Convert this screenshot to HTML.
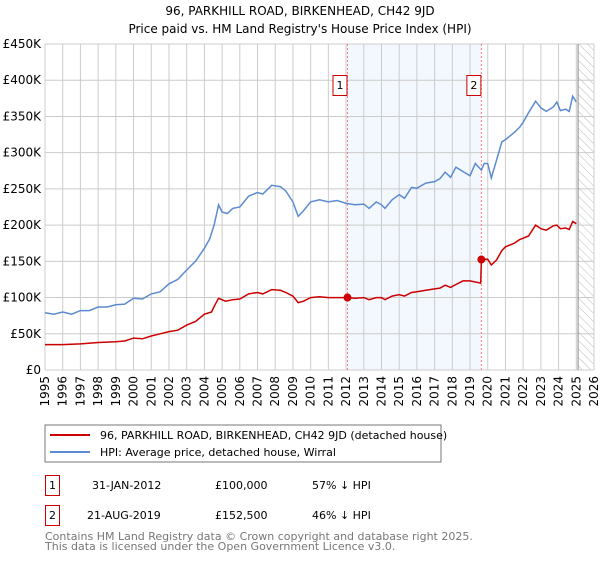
<!DOCTYPE html>
<html><head><meta charset="utf-8"><style>
body{margin:0;background:#fff;font-family:"DejaVu Sans","Liberation Sans",sans-serif}
svg text{font-family:"DejaVu Sans","Liberation Sans",sans-serif}
</style></head><body>
<svg id="c" width="600" height="560" xmlns="http://www.w3.org/2000/svg">
<defs><pattern id="hatch" width="6" height="6" patternUnits="userSpaceOnUse" patternTransform="rotate(-45)"><line x1="0" y1="0" x2="0" y2="6" stroke="#bbb" stroke-width="1"/></pattern></defs>
<text x="300" y="15" text-anchor="middle" font-size="12" fill="#000">96, PARKHILL ROAD, BIRKENHEAD, CH42 9JD</text>
<text x="300" y="33" text-anchor="middle" font-size="12" fill="#000">Price paid vs. HM Land Registry's House Price Index (HPI)</text>
<g id="plot"></g>
<rect x="45" y="425" width="396" height="37" fill="#fff" stroke="#777"/>
<line x1="50" y1="435" x2="90" y2="435" stroke="#cc0000" stroke-width="2"/>
<text x="100" y="439" font-size="11">96, PARKHILL ROAD, BIRKENHEAD, CH42 9JD (detached house)</text>
<line x1="50" y1="452" x2="90" y2="452" stroke="#5b8bd0" stroke-width="2"/>
<text x="100" y="456" font-size="11">HPI: Average price, detached house, Wirral</text>
<rect x="45.5" y="475.5" width="14" height="20" fill="#fff" stroke="#cc0000"/>
<text x="52.5" y="489" font-size="11" text-anchor="middle">1</text>
<text x="92" y="489" font-size="11">31-JAN-2012</text>
<text x="215" y="489" font-size="11">£100,000</text>
<text x="312" y="489" font-size="11">57% ↓ HPI</text>
<rect x="45.5" y="505.5" width="14" height="20" fill="#fff" stroke="#cc0000"/>
<text x="52.5" y="519" font-size="11" text-anchor="middle">2</text>
<text x="87" y="519" font-size="11">21-AUG-2019</text>
<text x="215" y="519" font-size="11">£152,500</text>
<text x="312" y="519" font-size="11">46% ↓ HPI</text>
<text x="45" y="540" font-size="11" fill="#777">Contains HM Land Registry data © Crown copyright and database right 2025.</text>
<text x="45" y="550" font-size="11" fill="#777">This data is licensed under the Open Government Licence v3.0.</text>
</svg>
<script>
const yTicks=[0,50,100,150,200,250,300,350,400,450];
const yLabels=["£0","£50K","£100K","£150K","£200K","£250K","£300K","£350K","£400K","£450K"];
const xYears=[1995,1996,1997,1998,1999,2000,2001,2002,2003,2004,2005,2006,2007,2008,2009,2010,2011,2012,2013,2014,2015,2016,2017,2018,2019,2020,2021,2022,2023,2024,2025,2026];
const hpiT=[1995,1995.5,1996,1996.5,1997,1997.5,1998,1998.5,1999,1999.5,2000,2000.5,2001,2001.5,2002,2002.5,2003,2003.5,2004,2004.3,2004.55,2004.8,2005.0,2005.3,2005.6,2006,2006.5,2007,2007.3,2007.8,2008.3,2008.6,2009.0,2009.3,2009.6,2010,2010.5,2011,2011.5,2012,2012.5,2013,2013.3,2013.7,2014,2014.2,2014.6,2015,2015.3,2015.7,2016,2016.5,2017,2017.3,2017.6,2017.9,2018.2,2018.6,2019.0,2019.3,2019.64,2019.8,2020.0,2020.2,2020.5,2020.8,2021.0,2021.5,2021.8,2022.0,2022.3,2022.7,2023.0,2023.3,2023.7,2023.9,2024.1,2024.4,2024.6,2024.8,2025.0];
const hpiV=[79,77,80,77,82,82,87,87,90,91,99,98,105,108,119,125,138,150,168,181,200,228,218,216,223,225,240,245,243,255,253,247,232,212,220,232,235,232,234,230,228,229,223,232,228,223,235,242,237,252,251,258,260,264,273,266,280,274,268,285,276,285,285,265,290,315,318,328,335,342,355,371,362,357,363,370,358,360,357,378,370];
const priceT=[1995,1996,1997,1998,1999,1999.5,2000,2000.5,2001,2001.5,2002,2002.5,2003,2003.5,2004,2004.4,2004.6,2004.8,2005.2,2005.6,2006,2006.5,2007,2007.3,2007.8,2008.3,2008.6,2009.0,2009.3,2009.6,2010,2010.5,2011,2011.5,2012.08,2012.5,2013,2013.3,2013.7,2014,2014.2,2014.6,2015,2015.3,2015.7,2016,2016.5,2017,2017.3,2017.6,2017.9,2018.2,2018.6,2019.0,2019.6,2019.64,2020.0,2020.2,2020.5,2020.8,2021.0,2021.5,2021.8,2022,2022.3,2022.7,2023,2023.3,2023.7,2023.9,2024.1,2024.4,2024.6,2024.8,2025.0];
const priceV=[35,35,36,38,39,40,44,43,47,50,53,55,62,67,77,80,90,99,95,97,98,105,107,105,111,110,107,102,93,95,100,101,100,100,100,99,100,97,100,100,97,102,104,102,107,108,110,112,113,117,114,118,123,123,120,152.5,153,145,152,165,170,175,180,182,185,200,195,193,199,200,195,196,194,205,202];
const saleT=[2012.08,2019.64];
const saleV=[100,152.5];
const saleLabels=["1","2"];
const X0=45,X1=594,Y0=370,Y1=44;
const xs=t=>X0+(t-1995)/(2026-1995)*(X1-X0);
const ys=v=>Y0-v/450*(Y0-Y1);
const NS="http://www.w3.org/2000/svg";
const g=document.getElementById('plot');
function mk(tag,attrs){const e=document.createElementNS(NS,tag);for(const k in attrs)e.setAttribute(k,attrs[k]);g.appendChild(e);return e;}
let e=mk('rect',{x:xs(saleT[0]),y:Y1,width:xs(saleT[1])-xs(saleT[0]),height:Y0-Y1,fill:'#eef3fd',opacity:0.7});


e=mk('rect',{x:xs(2025.1),y:Y1,width:X1-xs(2025.1),height:Y0-Y1,fill:'url(#hatch)'});


xYears.forEach(yr=>{const x=xs(yr);
 e=mk('line',{x1:x,y1:Y1,x2:x,y2:Y0,stroke:'#ccc','stroke-width':1});
 
 
 e=mk('text',{x:0,y:0,'font-size':12,'text-anchor':'end',transform:`translate(${x+4},${Y0+6}) rotate(-90)`});
 e.textContent=yr;
 
 
});
yTicks.forEach((v,i)=>{const y=ys(v);
 e=mk('line',{x1:X0,y1:y,x2:X1,y2:y,stroke:'#ccc','stroke-width':1});
 
 
 e=mk('text',{x:X0-4,y:y+4,'font-size':12,'text-anchor':'end'});
 e.textContent=yLabels[i];
 
 
});
e=mk('line',{x1:xs(2025.1),y1:Y1,x2:xs(2025.1),y2:Y0,stroke:'#888','stroke-width':1});


saleT.forEach((t,i)=>{const x=xs(t);
 e=mk('line',{x1:x,y1:Y1,x2:x,y2:Y0,stroke:'#f58080','stroke-width':1,'stroke-dasharray':'2,2'});
 
 
 e=mk('rect',{x:x-14.5,y:75.5,width:14,height:20,fill:'#fff',stroke:'#cc0000'});
 
 
 e=mk('text',{x:x-7.5,y:89,'font-size':11,'text-anchor':'middle'});
 e.textContent=saleLabels[i];
 
 
});
e=mk('path',{d:hpiT.map((t,i)=>(i?'L':'M')+xs(t).toFixed(1)+','+ys(hpiV[i]).toFixed(1)).join(''),fill:'none',stroke:'#5b8bd0','stroke-width':1.5});


e=mk('path',{d:priceT.map((t,i)=>(i?'L':'M')+xs(t).toFixed(1)+','+ys(priceV[i]).toFixed(1)).join(''),fill:'none',stroke:'#cc0000','stroke-width':1.5});


saleT.forEach((t,i)=>{
 e=mk('circle',{cx:xs(t),cy:ys(saleV[i]),r:4,fill:'#cc0000'});
 
 
});
</script>
</body></html>
